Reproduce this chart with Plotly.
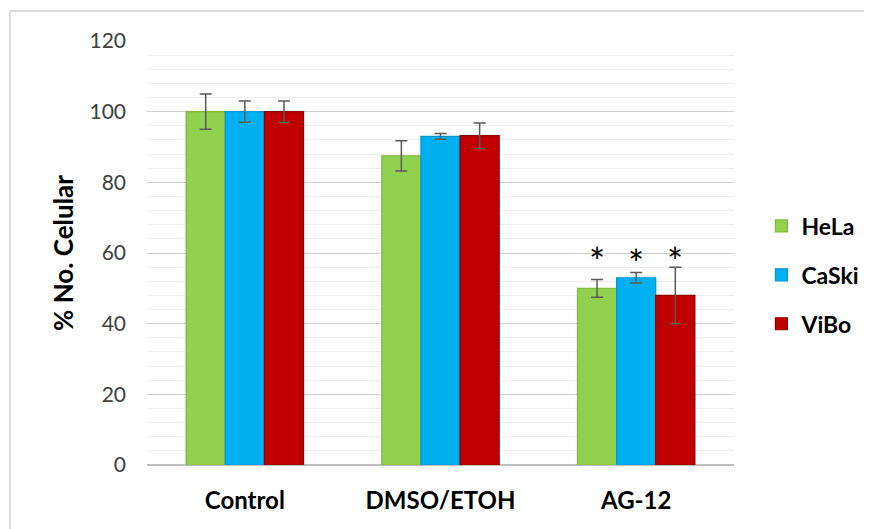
import plotly.graph_objects as go

categories = ["Control", "DMSO/ETOH", "AG-12"]
series_names = ["HeLa", "CaSki", "ViBo"]
hela = [100, 87.5, 50]
caski = [100, 93, 53]
vibo = [100, 93.2, 48]
hela_err = [5, 4.3, 2.5]
caski_err = [3, 0.8, 1.5]
vibo_err = [3, 3.6, 8]
star_y = [60.6, 59.9, 60.6]
y_ticks = [0, 20, 40, 60, 80, 100, 120]

colors = ["#92D050", "#00B0F0", "#C00000"]
outlines = ["#7FB83E", "#0096D0", "#8E0000"]
values = [hela, caski, vibo]
errors = [hela_err, caski_err, vibo_err]

FONT = "Lato, 'Open Sans', sans-serif"
# page has an 8px body margin; figure coords = page coords - 8
W, H = 864, 521
ML, MR, MT, MB = 139, 138, 33, 64

fig = go.Figure()
for i, name in enumerate(series_names):
    fig.add_trace(go.Bar(
        x=categories, y=values[i], name=name,
        marker=dict(color=colors[i], line=dict(color=outlines[i], width=1.2)),
        error_y=dict(type="data", array=errors[i], visible=True,
                     color="#595959", thickness=1.5, width=6),
        legendgroup=name,
    ))

# asterisks above AG-12 bars
offsets = [-1, 0, 1]
for i in range(3):
    fig.add_annotation(
        x=2, y=star_y[i], xref="x", yref="y", text="*", showarrow=False,
        xshift=offsets[i] * 39.2, yshift=-10,
        font=dict(family=FONT, size=38, color="#000000"),
    )

pw = W - ML - MR
ph = H - MT - MB
fig.add_shape(type="rect", xref="paper", yref="paper",
              x0=(2 - ML) / pw, x1=(900 - ML) / pw,
              y0=(H - MB - 560) / ph, y1=(H - MB - 3) / ph,
              line=dict(color="#D0D0D0", width=1.5), fillcolor="rgba(0,0,0,0)", layer="below")

fig.update_layout(
    width=W, height=H,
    margin=dict(l=ML, r=MR, t=MT, b=MB, autoexpand=False),
    paper_bgcolor="white", plot_bgcolor="white",
    barmode="group", bargap=0.4, bargroupgap=0,
    font=dict(family=FONT, color="#404040"),
    showlegend=True,
    legend=dict(xref="container", yref="container", x=0.872, y=0.4875,
                xanchor="left", yanchor="middle",
                font=dict(family=FONT, size=23, color="#000000", weight="bold"),
                tracegroupgap=16, itemwidth=30, bgcolor="rgba(0,0,0,0)"),
    xaxis=dict(showgrid=False, showline=False, ticks="", ticklabelstandoff=19,
               tickfont=dict(family=FONT, size=24, color="#000000", weight="bold")),
    yaxis=dict(range=[0, 120], tickvals=y_ticks, showline=False, zeroline=True,
               zerolinecolor="#BFBFBF", zerolinewidth=1.5,
               gridcolor="#CFCFCF", gridwidth=1.3,
               minor=dict(dtick=4, showgrid=True, gridcolor="#EDEDED", gridwidth=1),
               ticks="", ticklabelstandoff=20,
               tickfont=dict(family=FONT, size=21, color="#404040"),
               title=dict(text="% No. Celular", standoff=8,
                          font=dict(family=FONT, size=26, color="#000000", weight="bold"))),
)

fig.write_html("out.html")
